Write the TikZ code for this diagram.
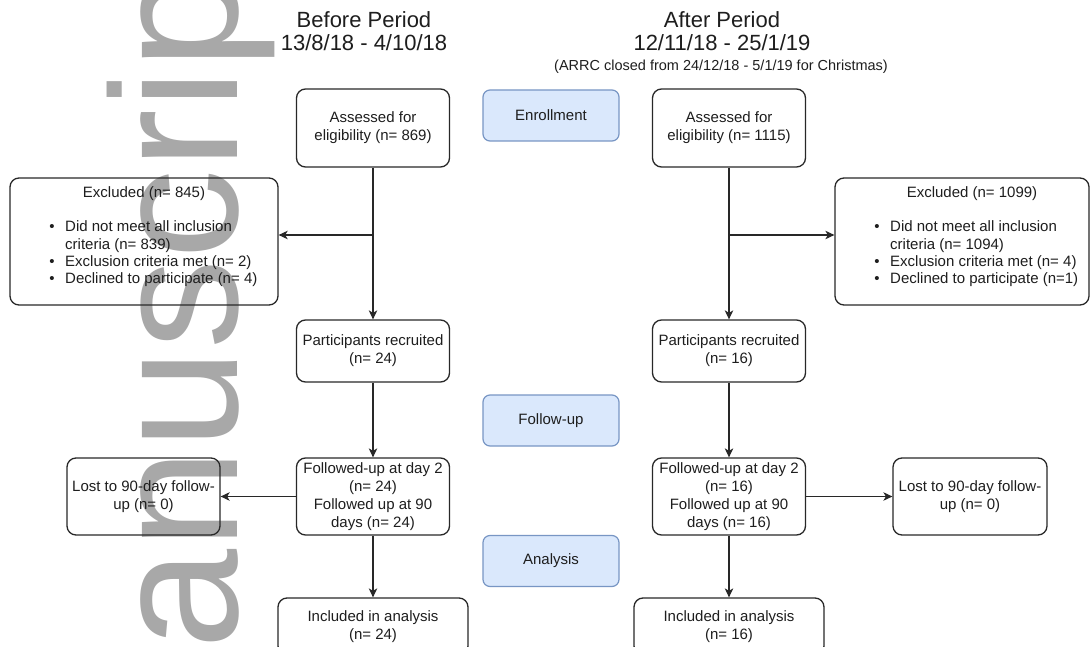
\documentclass[tikz,border=0pt]{standalone}
\usepackage{fontspec}
\setmainfont{Liberation Sans}
\usetikzlibrary{arrows.meta}
\definecolor{wmgray}{RGB}{168,168,168}
\definecolor{bluefill}{RGB}{218,232,252}
\definecolor{blueline}{RGB}{120,150,196}
\definecolor{ink}{RGB}{40,40,40}
\definecolor{txtcol}{RGB}{30,30,30}
\begin{document}
\begin{tikzpicture}[x=1pt,y=-1pt,
  box/.style={draw=ink, line width=1.3pt, rounded corners=9pt, inner sep=0pt, align=center, text=txtcol, font=\fontsize{15}{18}\selectfont},
  colbox/.style={box, minimum width=153pt},
  phasebox/.style={draw=blueline, fill=bluefill, line width=1.2pt, rounded corners=7pt, minimum width=136pt, minimum height=51pt, inner sep=0pt, text=txtcol, font=\fontsize{15}{18}\selectfont},
  titletxt/.style={anchor=base, inner sep=0pt, text=txtcol, font=\fontsize{22}{26}\selectfont},
  notetxt/.style={anchor=base, inner sep=0pt, text=txtcol, font=\fontsize{14.5}{17}\selectfont},
  itemtxt/.style={anchor=base west, inner sep=0pt, text=txtcol, font=\fontsize{15}{17}\selectfont},
  bullettxt/.style={anchor=base, inner sep=0pt, text=txtcol, font=\fontsize{15}{17}\selectfont},
  conn/.style={draw=ink, line width=1.2pt, -{Stealth[length=9pt,width=8.5pt,inset=2.5pt]}},
  wm/.style={inner sep=0pt, text=wmgray, font=\fontsize{180}{180}\selectfont}]
\useasboundingbox (0,0) rectangle (1092,647);
\fill[white] (0,0) rectangle (1092,647);
% watermark
\node[wm, anchor=base west, rotate=90] (mark) at (237,800) {Manuscript};
% titles
\node[titletxt] (tBefore) at (364,28) {Before Period};
\node[titletxt] (dBefore) at (364,51) {13/8/18 - 4/10/18};
\node[titletxt] (tAfter) at (722,28) {After Period};
\node[titletxt] (dAfter) at (722,51) {12/11/18 - 25/1/19};
\node[notetxt] (nAfter) at (721,71) {(ARRC closed from 24/12/18 - 5/1/19 for Christmas)};
% phase boxes
\node[phasebox] (enroll) at (551,115.5) {Enrollment};
\node[phasebox] (follow) at (551,420.5) {Follow-up};
\node[phasebox] (analysis) at (551,561) {Analysis};
% column boxes
\node[colbox, minimum height=78pt] (assL) at (373,128) {Assessed for\\eligibility (n= 869)};
\node[colbox, minimum height=78pt] (assR) at (729,128) {Assessed for\\eligibility (n= 1115)};
\node[colbox, minimum height=62pt] (partL) at (373,351) {Participants recruited\\(n= 24)};
\node[colbox, minimum height=62pt] (partR) at (729,351) {Participants recruited\\(n= 16)};
\node[colbox, minimum height=77pt] (folL) at (373,496.5) {Followed-up at day 2\\(n= 24)\\Followed up at 90\\days (n= 24)};
\node[colbox, minimum height=77pt] (folR) at (729,496.5) {Followed-up at day 2\\(n= 16)\\Followed up at 90\\days (n= 16)};
\node[box, minimum width=190pt, minimum height=57pt] (incL) at (373,626.5) {Included in analysis\\(n= 24)};
\node[box, minimum width=190pt, minimum height=57pt] (incR) at (729,626.5) {Included in analysis\\(n= 16)};
\node[box, minimum width=153pt, minimum height=77pt] (lostL) at (143.5,496.5) {Lost to 90-day follow-\\up (n= 0)};
\node[box, minimum width=154pt, minimum height=77pt] (lostR) at (970,496.5) {Lost to 90-day follow-\\up (n= 0)};
% excluded boxes
\node[box, minimum width=268pt, minimum height=127pt] (exclL) at (144,241.5) {};
\node[box, minimum width=254pt, minimum height=127pt] (exclR) at (962,241.5) {};
\node[bullettxt] (exLt) at (144,198) {Excluded (n= 845)};
\node[bullettxt] (exLb1) at (52,232) {\textbullet};
\node[itemtxt] (exL1) at (65,232) {Did not meet all inclusion};
\node[itemtxt] (exL2) at (65,249) {criteria (n= 839)};
\node[bullettxt] (exLb2) at (52,266) {\textbullet};
\node[itemtxt] (exL3) at (65,266) {Exclusion criteria met (n= 2)};
\node[bullettxt] (exLb3) at (52,283) {\textbullet};
\node[itemtxt] (exL4) at (65,283) {Declined to participate (n= 4)};
\node[bullettxt] (exRt) at (972,198) {Excluded (n= 1099)};
\node[bullettxt] (exRb1) at (877,232) {\textbullet};
\node[itemtxt] (exR1) at (890,232) {Did not meet all inclusion};
\node[itemtxt] (exR2) at (890,249) {criteria (n= 1094)};
\node[bullettxt] (exRb2) at (877,266) {\textbullet};
\node[itemtxt] (exR3) at (890,266) {Exclusion criteria met (n= 4)};
\node[bullettxt] (exRb3) at (877,283) {\textbullet};
\node[itemtxt] (exR4) at (890,283) {Declined to participate (n=1)};
% connectors
\coordinate (brL) at (373,235);
\coordinate (brR) at (729,235);
\draw[conn] (assL.south) -- (partL.north);
\draw[conn] (assR.south) -- (partR.north);
\draw[conn] (brL) -- (brL -| exclL.east);
\draw[conn] (brR) -- (brR -| exclR.west);
\draw[conn] (partL.south) -- (folL.north);
\draw[conn] (partR.south) -- (folR.north);
\draw[conn] (folL.west) -- (lostL.east);
\draw[conn] (folR.east) -- (lostR.west);
\draw[conn] (folL.south) -- (incL.north);
\draw[conn] (folR.south) -- (incR.north);
\end{tikzpicture}
\end{document}
